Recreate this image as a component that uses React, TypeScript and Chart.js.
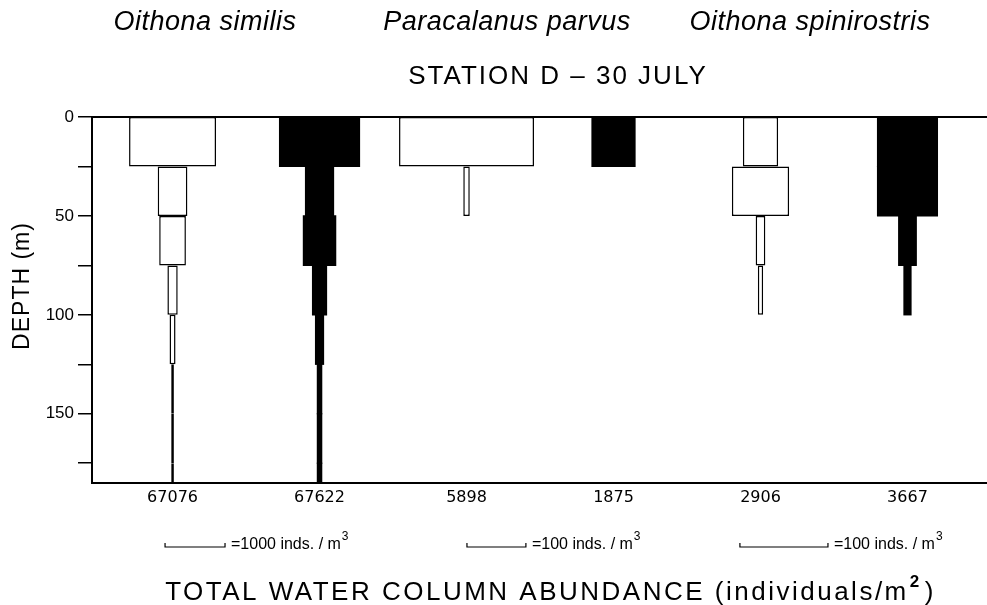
import React, { useEffect, useRef } from "react";
import { Chart, registerables } from "chart.js";

Chart.register(...registerables);

// ---------------- data ----------------
// top of each 25 m sampling layer (m)
const layerTops = [0, 25, 50, 75, 100, 125, 150, 175];
const layerThickness = 25;
const depthMax = 185;
const depthTicks = [0, 25, 50, 75, 100, 125, 150, 175];

const speciesNames = ["Oithona similis", "Paracalanus parvus", "Oithona spinirostris"];
const stationTitle = "STATION D \u2013 30 JULY";

// densities (inds./m³) per layer, null = absent
const similisWhite = [1450, 495, 445, 172, 100, 45, 45, 45];
const similisBlack = [1333, 467, 538, 233, 133, 72, 72, 72];
const parvusWhite = [229, 11, null, null, null, null, null, null];
const parvusBlack = [73, null, null, null, null, null, null, null];
const spiniWhite = [40, 65, 11, 6, null, null, null, null];
const spiniBlack = [68, 68, 20, 8, null, null, null, null];

// total water column abundance (individuals/m²)
const columnTotals = ["67076", "67622", "5898", "1875", "2906", "3667"];

// scale bars
const scaleBarValues = [1000, 100, 100];
const scaleBarUnit = "inds. / m";

// ---------------- layout ----------------
const X_MIN = -0.048;
const X_MAX = 6.041;
const barUnits = [0.408, 0.401, 0.599]; // x-axis units spanned by each species' scale bar
const bracketStarts = [0.449, 2.503, 4.36];
const speciesCenters = [205, 507, 810];
const FONT = '"Liberation Sans", Arial, sans-serif';
const NUMFONT = '"DejaVu Sans", sans-serif';

const columns = [
  { values: similisWhite, species: 0, black: false },
  { values: similisBlack, species: 0, black: true },
  { values: parvusWhite, species: 1, black: false },
  { values: parvusBlack, species: 1, black: true },
  { values: spiniWhite, species: 2, black: false },
  { values: spiniBlack, species: 2, black: true },
];

function buildDatasets() {
  return columns.map((col, c) => {
    const center = c + 0.5;
    const k = barUnits[col.species] / scaleBarValues[col.species];
    const data: any[] = [];
    col.values.forEach((d, i) => {
      if (d == null) return;
      data.push({
        y: layerTops[i] + layerThickness / 2,
        x: [center - (d * k) / 2, center + (d * k) / 2],
      });
    });
    return {
      label: speciesNames[col.species] + (col.black ? " (black)" : " (white)"),
      data,
      backgroundColor: col.black ? "#000" : "#fff",
      borderColor: "#000",
      borderWidth: col.black ? 0 : 1.5,
      borderSkipped: false,
      inflateAmount: col.black ? 0.6 : 0,
      grouped: false,
      barPercentage: 1,
      categoryPercentage: 1,
      clip: 0,
    };
  });
}

const annotate = {
  id: "annotate",
  afterDraw(chart: any) {
    const ctx = chart.ctx as CanvasRenderingContext2D;
    const xs = chart.scales.x;
    ctx.save();
    ctx.fillStyle = "#000";
    ctx.strokeStyle = "#000";

    // species names
    ctx.textAlign = "center";
    ctx.textBaseline = "middle";
    ctx.font = `italic 27px ${FONT}`;
    (ctx as any).letterSpacing = "0.5px";
    speciesNames.forEach((n, i) => ctx.fillText(n, speciesCenters[i], 22));

    // station title
    ctx.font = `26px ${FONT}`;
    (ctx as any).letterSpacing = "2px";
    ctx.fillText(stationTitle, 558, 77);
    (ctx as any).letterSpacing = "0px";

    // y title
    ctx.save();
    ctx.translate(23, 286);
    ctx.rotate(-Math.PI / 2);
    ctx.font = `23px ${FONT}`;
    (ctx as any).letterSpacing = "1px";
    ctx.fillText("DEPTH (m)", 0, 0);
    ctx.restore();

    // scale bars
    const by = 547;
    ctx.lineWidth = 1.2;
    ctx.textAlign = "left";
    scaleBarValues.forEach((v, i) => {
      const l = xs.getPixelForValue(bracketStarts[i]);
      const r = xs.getPixelForValue(bracketStarts[i] + barUnits[i]);
      ctx.beginPath();
      ctx.moveTo(l, by - 4);
      ctx.lineTo(l, by);
      ctx.lineTo(r, by);
      ctx.lineTo(r, by - 4);
      ctx.stroke();
      ctx.font = `16px ${FONT}`;
      const t = "=" + v + " " + scaleBarUnit;
      ctx.fillText(t, r + 6, by - 2);
      const w = ctx.measureText(t).width;
      ctx.font = `12px ${FONT}`;
      ctx.fillText("3", r + 6 + w + 1, by - 10);
    });

    // bottom title
    const main = "TOTAL WATER COLUMN ABUNDANCE (individuals/m";
    ctx.font = `26px ${FONT}`;
    (ctx as any).letterSpacing = "2.5px";
    const w1 = ctx.measureText(main).width;
    ctx.font = `17px ${FONT}`;
    const w2 = ctx.measureText("2").width;
    ctx.font = `26px ${FONT}`;
    const w3 = ctx.measureText(")").width;
    const x0 = 550 - (w1 + w2 + w3 + 3) / 2;
    ctx.fillText(main, x0, 593);
    ctx.font = `bold 17px ${FONT}`;
    ctx.fillText("2", x0 + w1 + 1, 582);
    ctx.font = `26px ${FONT}`;
    ctx.fillText(")", x0 + w1 + w2 + 4, 593);
    (ctx as any).letterSpacing = "0px";
    ctx.restore();
  },
};

export default function App() {
  const ref = useRef<HTMLCanvasElement | null>(null);
  useEffect(() => {
    if (!ref.current) return;
    const chart = new Chart(ref.current, {
      type: "bar",
      data: { datasets: buildDatasets() as any },
      plugins: [annotate],
      options: {
        indexAxis: "y",
        animation: false,
        responsive: false,
        maintainAspectRatio: false,
        layout: { padding: { top: 117, left: 0, right: 0, bottom: 0 } },
        plugins: {
          legend: { display: false },
          tooltip: { enabled: false },
          title: { display: false },
        },
        scales: {
          y: {
            type: "linear",
            reverse: true,
            min: 0,
            max: depthMax,
            offset: false,
            position: "left",
            afterBuildTicks: (s: any) => {
              s.ticks = depthTicks.map((v) => ({ value: v }));
            },
            afterFit: (s: any) => {
              s.width = 92;
            },
            ticks: {
              autoSkip: false,
              includeBounds: false,
              padding: 4,
              color: "#000",
              font: { family: FONT, size: 17 },
              callback: (v: any) => (Number(v) % 50 === 0 ? String(v) : ""),
            },
            grid: {
              display: true,
              offset: false,
              drawOnChartArea: false,
              drawTicks: true,
              tickLength: 14,
              color: "#000",
              lineWidth: 1.5,
            },
            border: { display: true, color: "#000", width: 2 },
          },
          x: {
            type: "linear",
            min: X_MIN,
            max: X_MAX,
            position: "bottom",
            afterBuildTicks: (s: any) => {
              s.ticks = columnTotals.map((_, i) => ({ value: i + 0.5 }));
            },
            afterFit: (s: any) => {
              s.height = 122;
            },
            ticks: {
              autoSkip: false,
              maxRotation: 0,
              padding: 5,
              color: "#000",
              font: { family: NUMFONT, size: 16 },
              callback: (_v: any, i: number) => columnTotals[i],
            },
            grid: { display: false, drawTicks: false },
            border: { display: true, color: "#000", width: 2 },
          },
          xTop: {
            type: "linear",
            min: X_MIN,
            max: X_MAX,
            position: "top",
            ticks: { display: false },
            grid: { display: false, drawTicks: false },
            border: { display: true, color: "#000", width: 2 },
            afterFit: (s: any) => {
              s.height = 0;
            },
          },
        },
      } as any,
    });
    return () => chart.destroy();
  }, []);
  return (
    <div style={{ position: "fixed", left: 0, top: 0, width: 987, height: 605, background: "#fff" }}>
      <canvas ref={ref} width={987} height={605} style={{ display: "block" }} />
    </div>
  );
}
